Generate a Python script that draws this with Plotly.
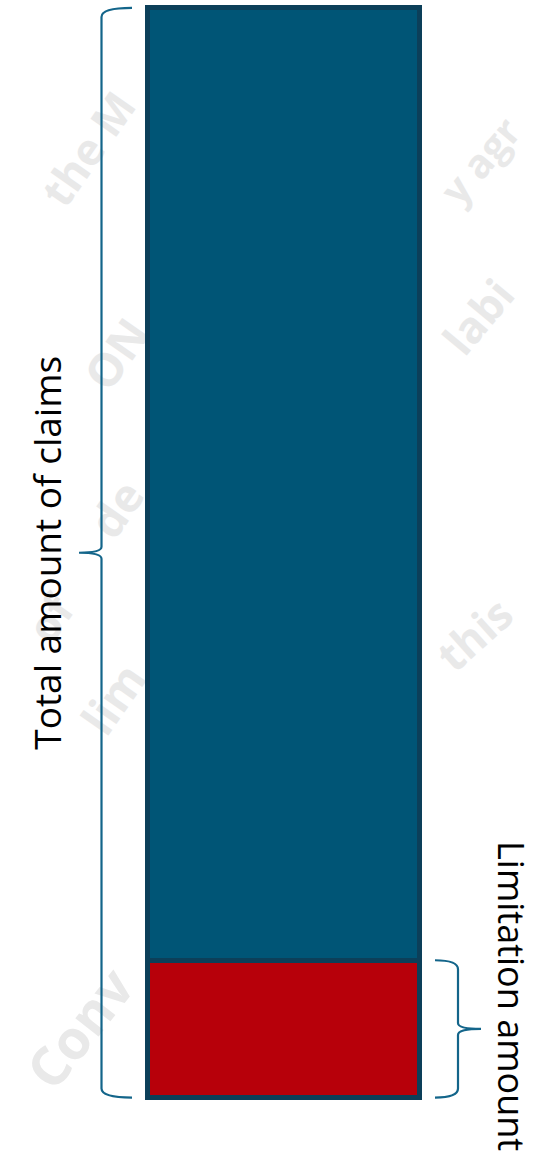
import plotly.graph_objects as go

# ---- data ----
categories = ["Claims"]
total_claims = [100.0]
limitation_amount = [12.6]
labels = ["Total amount of claims", "Limitation amount"]

W, H = 542, 1158
Y_RANGE = [-5.55, 100.73]
X_RANGE = [-0.8338, 0.7603]
px_per_unit = H / (Y_RANGE[1] - Y_RANGE[0])

BLUE = "#005576"
RED = "#b7000a"
EDGE = "#0c3f59"
BRACE = "#13658a"

above = [t - l for t, l in zip(total_claims, limitation_amount)]

fig = go.Figure()
fig.add_trace(go.Bar(x=categories, y=limitation_amount, width=0.8,
                     marker=dict(color=RED, line=dict(color=EDGE, width=5)),
                     hoverinfo="skip"))
fig.add_trace(go.Bar(x=categories, y=above, width=0.8,
                     marker=dict(color=BLUE, line=dict(color=EDGE, width=5)),
                     hoverinfo="skip"))


def brace(y0, y1, x_end, x_spine, x_tip, r_px=9, tip_px=6):
    # x in paper (pixels / W), y in data units
    xe, xs, xt = x_end / W, x_spine / W, x_tip / W
    r = r_px / px_per_unit
    t = tip_px / px_per_unit
    ym = (y0 + y1) / 2
    top, bot = max(y0, y1), min(y0, y1)
    return (f"M {xe},{top} Q {xs},{top} {xs},{top - r} "
            f"L {xs},{ym + t} Q {xs},{ym} {xt},{ym} "
            f"Q {xs},{ym} {xs},{ym - t} "
            f"L {xs},{bot + r} Q {xs},{bot} {xe},{bot}")


shapes = [
    dict(type="path", xref="paper", yref="y",
         path=brace(0, total_claims[0], 132, 101.5, 79),
         line=dict(color=BRACE, width=2.2)),
    dict(type="path", xref="paper", yref="y",
         path=brace(0, limitation_amount[0], 435, 458, 481),
         line=dict(color=BRACE, width=2.2)),
]

# faint watermark fragments, drawn below the bars
wm = [("the M", 90, 150, 44, -55), ("ON", 118, 355, 46, -55),
      ("de", 118, 510, 46, -55), ("of", 52, 620, 44, -55),
      ("lim", 115, 700, 46, -55),
      ("Conv", 82, 1030, 54, -52), ("y agr", 482, 162, 40, -50),
      ("labi", 480, 318, 44, -50), ("this", 476, 636, 44, -42)]
for txt, cx, cy, fs, ang in wm:
    shapes.append(dict(type="rect", xref="paper", yref="paper",
                       x0=(cx - 5) / W, x1=(cx + 5) / W,
                       y0=1 - (cy + 5) / H, y1=1 - (cy - 5) / H,
                       line=dict(width=0), fillcolor="rgba(0,0,0,0)",
                       layer="below",
                       label=dict(text=txt, textangle=ang,
                                  textposition="middle center",
                                  font=dict(family="Open Sans", size=fs,
                                            color="#e9e9e9", weight="bold"))))

annotations = [
    dict(text=labels[0], x=47 / W, xref="paper", y=total_claims[0] / 2,
         yref="y", textangle=-90, showarrow=False,
         font=dict(family="Open Sans", size=37, color="#000000"),
         xanchor="center", yanchor="middle"),
    dict(text=labels[1], x=511 / W, xref="paper", y=1 - 996 / H,
         yref="paper", textangle=90, showarrow=False,
         font=dict(family="Open Sans", size=36, color="#000000"),
         xanchor="center", yanchor="middle"),
]

fig.update_layout(
    width=W, height=H, margin=dict(l=0, r=0, t=0, b=0),
    barmode="stack", showlegend=False,
    paper_bgcolor="white", plot_bgcolor="rgba(0,0,0,0)",
    xaxis=dict(range=X_RANGE, visible=False, fixedrange=True),
    yaxis=dict(range=Y_RANGE, visible=False, fixedrange=True),
    shapes=shapes, annotations=annotations,
)

fig.write_html("out.html", config={"displayModeBar": False})
